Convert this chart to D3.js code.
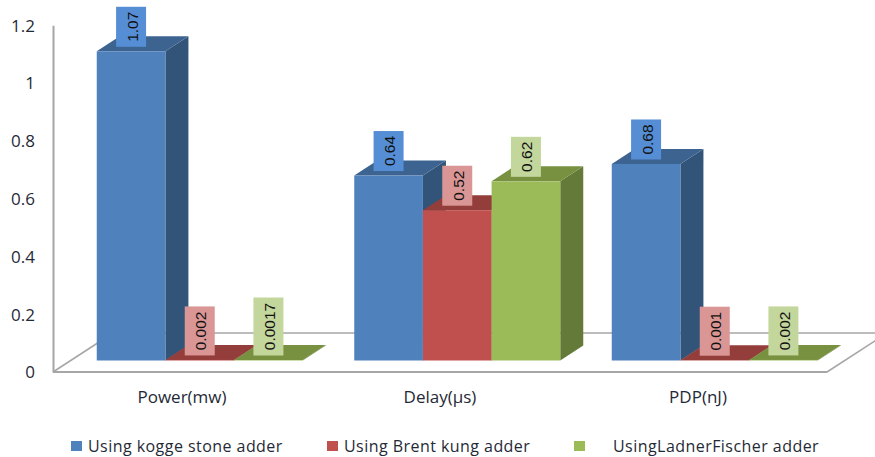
<!DOCTYPE html>
<html>
<head>
<meta charset="utf-8">
<script src="https://cdn.jsdelivr.net/npm/d3@7"></script>
<style>
  html, body { margin: 0; padding: 0; background: #fff; }
  svg { display: block; }
  text { font-family: "Open Sans", sans-serif; fill: #1f2a36; }
</style>
</head>
<body>
<svg id="chart" width="875" height="457"></svg>
<script>
const categories = ["Power(mw)", "Delay(µs)", "PDP(nJ)"];
const seriesNames = ["Using kogge stone adder", "Using Brent kung adder", "UsingLadnerFischer adder"];
const koggeStone = [1.07, 0.64, 0.68];
const brentKung = [0.002, 0.52, 0.001];
const ladnerFischer = [0.0017, 0.62, 0.002];
const valueLabels = [["1.07", "0.64", "0.68"], ["0.002", "0.52", "0.001"], ["0.0017", "0.62", "0.002"]];
const yTicks = [0, 0.2, 0.4, 0.6, 0.8, 1, 1.2];

const seriesValues = [koggeStone, brentKung, ladnerFischer];
const palette = [
  { front: "#4f81bd", top: "#3d6491", side: "#325479", label: "#558ed5" },
  { front: "#c0504d", top: "#943e3b", side: "#7d3432", label: "#d99694" },
  { front: "#9bbb59", top: "#789140", side: "#647a39", label: "#c3d69b" }
];

const svg = d3.select("#chart");

// Oblique projection: depth shifts every solid up and to the right.
const depthX = 23, depthY = 15;

// Wall and axis scales sit on the front edge of the floor; bars stand further back on it.
const xAxisScale = d3.scaleBand().domain(categories).range([53, 827]);
const yAxisScale = d3.scaleLinear().domain([0, 1.2]).range([372, 25.2]);
const yBar = d3.scaleLinear().domain([0, 1.2]).range([360.5, 13.7]);
const xGroup = d3.scaleBand().domain(categories).range([71, 843.5]);
const xSeries = d3.scaleBand().domain(d3.range(seriesNames.length))
  .range([xGroup.bandwidth() * 0.1, xGroup.bandwidth() * 0.9]);

// Floor outline and wall
const floorColor = "#a6a6a6";
const floor = svg.append("g").attr("fill", "none").attr("stroke", floorColor);
const backX = 113, backY = 333;
floor.append("path").attr("stroke-width", 1.5)
  .attr("d", `M53,372 L${backX},${backY}`);
floor.append("path").attr("stroke-width", 1.5)
  .attr("d", `M${backX},${backY} L875,${backY}`);
floor.append("path").attr("stroke-width", 1.5)
  .attr("d", `M827,372 L887,${backY}`);
floor.append("path").attr("stroke-width", 2)
  .attr("d", "M53,372 L827,372");

const yAxis = svg.append("g").attr("transform", "translate(53,0)")
  .call(d3.axisLeft(yAxisScale).tickValues(yTicks).tickSize(0).tickPadding(18).tickFormat(d => String(d)));
yAxis.select(".domain").attr("stroke", floorColor).attr("stroke-width", 2);
yAxis.selectAll("text").style("font-size", "17px").attr("dy", "0.35em");

const xAxis = svg.append("g").attr("transform", "translate(0,398)")
  .call(d3.axisBottom(xAxisScale).tickSize(0).tickPadding(0));
xAxis.select(".domain").remove();
xAxis.selectAll("text").style("font-size", "17px").attr("dy", "0.32em");

// Solid bars, drawn left to right so nearer neighbours overlap the side faces
const bars = svg.append("g");
seriesValues.forEach((values, s) => {
  const c = palette[s];
  categories.forEach((cat, i) => {
    const x0 = xGroup(cat) + xSeries(s);
    const x1 = x0 + xSeries.bandwidth();
    const yTop = yBar(values[i]);
    const yBase = yBar(0);
    const g = bars.append("g");
    g.append("path").attr("fill", c.side)
      .attr("d", `M${x1},${yTop} L${x1 + depthX},${yTop - depthY} L${x1 + depthX},${yBase - depthY} L${x1},${yBase} Z`);
    g.append("path").attr("fill", c.top)
      .attr("d", `M${x0},${yTop} L${x1},${yTop} L${x1 + depthX},${yTop - depthY} L${x0 + depthX},${yTop - depthY} Z`);
    g.append("rect").attr("x", x0).attr("y", yTop)
      .attr("width", x1 - x0).attr("height", yBase - yTop).attr("fill", c.front);
  });
});

// Value labels in boxes, with the text turned to read upwards
const labels = svg.append("g");
seriesValues.forEach((values, s) => {
  categories.forEach((cat, i) => {
    const text = valueLabels[s][i];
    const cx = xGroup(cat) + xSeries(s) + xSeries.bandwidth() / 2;
    const bottom = yBar(values[i]) - 4.5;
    const boxHeight = 4 + text.length * 9;
    labels.append("rect").attr("x", cx - 15).attr("y", bottom - boxHeight)
      .attr("width", 30).attr("height", boxHeight).attr("fill", palette[s].label);
    labels.append("text")
      .attr("transform", `translate(${cx + 1},${bottom - boxHeight / 2}) rotate(-90)`)
      .attr("text-anchor", "middle").attr("dy", "0.35em")
      .style("font-family", "'Liberation Sans', sans-serif")
      .style("font-size", "15.5px").style("fill", "#111")
      .text(text);
  });
});

// Legend
const legendSpots = [[71, 88], [327, 344], [574, 613]];
const legend = svg.append("g");
seriesNames.forEach((name, s) => {
  const [sx, tx] = legendSpots[s];
  legend.append("rect").attr("x", sx).attr("y", 441).attr("width", 11).attr("height", 10)
    .attr("fill", palette[s].front);
  legend.append("text").attr("x", tx).attr("y", 446).attr("dy", "0.35em")
    .style("font-size", "16px").style("letter-spacing", "0.45px").text(name);
});
</script>
</body>
</html>
